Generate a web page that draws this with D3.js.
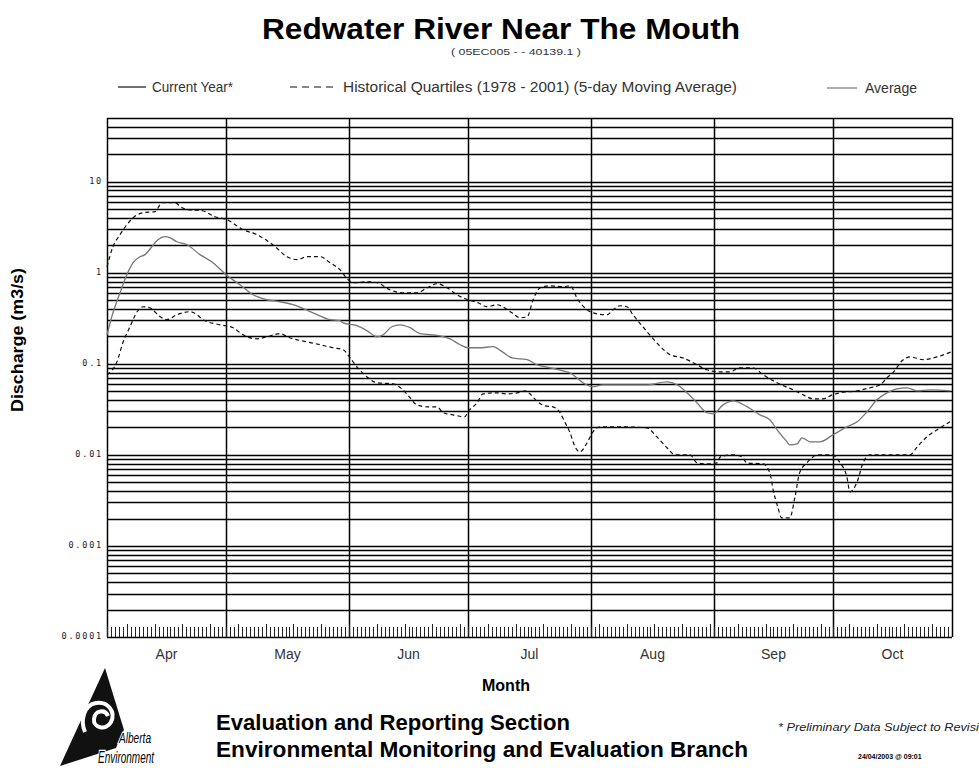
<!DOCTYPE html>
<html>
<head>
<meta charset="utf-8">
<style>
body { margin: 0; background: #fff; }
svg { font-family: "Liberation Sans", Arial, sans-serif; }
</style>
</head>
<body>
<svg width="979" height="768"></svg>
<script src="https://d3js.org/d3.v7.min.js"></script>
<script>

// days counted from 1 April
var upperDay = [0, 1.5, 3.3, 5, 6.6, 9.1, 12.1, 13.9, 17.1, 18.9, 20.2, 23.9, 27.2, 30.2, 34.3, 37.8, 41.8, 45.4, 47.9, 50.4, 53.7, 56.2, 58.7, 60.8, 62.5, 65.5, 68.1, 71.3, 74.4, 78.1, 80.7, 83.2, 85.7, 88.2, 91, 93.5, 95.8, 98.3, 99.8, 102.1, 104.1, 105.9, 107.4, 109.2, 111.7, 114.9, 116.7, 118.7, 121, 122.5, 126, 127.6, 129.3, 131.1, 132.6, 135.1, 138.6, 141.9, 145.2, 148.7, 151.2, 153.8, 157, 159.6, 162.8, 165.4, 168.9, 172.9, 175.5, 178, 180.5, 182.8, 184.8, 189.1, 192.3, 194.9, 196.6, 198.1, 200.7, 202.4, 205.7, 209.2, 213];
var upperQ = [1.16, 1.93, 2.62, 3.37, 4.02, 4.56, 4.68, 5.88, 5.88, 5.18, 4.92, 4.8, 4.12, 3.82, 2.97, 2.62, 2.03, 1.5, 1.39, 1.5, 1.5, 1.29, 1.08, 0.838, 0.776, 0.796, 0.776, 0.65, 0.603, 0.603, 0.684, 0.757, 0.684, 0.573, 0.505, 0.468, 0.423, 0.445, 0.423, 0.363, 0.32, 0.328, 0.505, 0.684, 0.719, 0.702, 0.719, 0.505, 0.392, 0.363, 0.345, 0.392, 0.434, 0.423, 0.345, 0.255, 0.17, 0.126, 0.116, 0.0975, 0.0859, 0.0817, 0.0817, 0.0904, 0.0904, 0.0757, 0.0618, 0.0518, 0.0456, 0.0412, 0.0412, 0.0456, 0.048, 0.0505, 0.0545, 0.0588, 0.0702, 0.0796, 0.111, 0.119, 0.111, 0.119, 0.136];

var avgDay = [0, 1.5, 3.3, 5, 6.6, 8.3, 9.6, 11.3, 12.9, 14.6, 15.9, 17.6, 20.2, 23.4, 26.7, 30, 33.5, 36.8, 40.3, 43.6, 46.9, 51.9, 56.2, 58.7, 59.5, 63, 65.5, 68.1, 69.6, 71.8, 73.9, 76.4, 78.9, 83.9, 86.5, 89, 91, 94, 97.3, 99.6, 102.1, 105.9, 108.4, 111.7, 114.9, 116.7, 120, 122.3, 125, 131.1, 136.1, 141.2, 143.7, 146.2, 148.7, 151.2, 152.8, 155.3, 157.8, 161.4, 164.6, 167.1, 168.9, 171.4, 172.1, 173.9, 175.2, 177.2, 179.7, 183, 186.5, 189.1, 191.6, 194.1, 196.6, 199.1, 201.7, 204.2, 207.5, 212.5];
var average = [0.208, 0.363, 0.603, 0.951, 1.29, 1.5, 1.58, 1.93, 2.31, 2.49, 2.42, 2.19, 2.03, 1.58, 1.29, 0.951, 0.738, 0.573, 0.505, 0.48, 0.445, 0.363, 0.305, 0.297, 0.282, 0.262, 0.231, 0.198, 0.208, 0.255, 0.268, 0.249, 0.214, 0.203, 0.188, 0.162, 0.15, 0.15, 0.154, 0.136, 0.116, 0.111, 0.0975, 0.0904, 0.0838, 0.0796, 0.0618, 0.0559, 0.0588, 0.0588, 0.0588, 0.0634, 0.0588, 0.048, 0.0373, 0.029, 0.0282, 0.0354, 0.0392, 0.0337, 0.0275, 0.0243, 0.0188, 0.0139, 0.0129, 0.0132, 0.0154, 0.0139, 0.0139, 0.0166, 0.0203, 0.0231, 0.0297, 0.0402, 0.048, 0.0531, 0.0545, 0.0505, 0.0518, 0.0505];

var lowerDay = [0, 2.5, 4, 5.8, 7.6, 9.1, 10.8, 13.4, 15.1, 17.6, 20.9, 22.7, 24.2, 28.5, 31.8, 34.3, 37.8, 40.3, 43.6, 46.1, 50.4, 53.7, 57, 59.5, 61.3, 63, 65.5, 68.1, 72.1, 74.6, 76.4, 78.1, 80.7, 83.2, 84.7, 87.2, 90.2, 91, 93.3, 94.8, 98.3, 100.8, 103.4, 105.4, 106.6, 108.6, 110.4, 112.4, 114.2, 115.5, 116.7, 118, 119.2, 121, 122.5, 124.3, 129.3, 136.1, 138.6, 141.2, 143.2, 147, 148.7, 151.2, 153.8, 154.6, 157.8, 160.1, 161.3, 165.4, 167.1, 167.9, 169.1, 170.1, 172.1, 173.4, 174.6, 176.4, 179.2, 182.8, 184.8, 186.5, 187.3, 189.1, 190.6, 192.3, 197.4, 202.4, 204.2, 206.7, 209.2, 212.5];
var lowerQ = [0.0757, 0.105, 0.17, 0.255, 0.373, 0.423, 0.412, 0.328, 0.305, 0.345, 0.373, 0.345, 0.305, 0.268, 0.249, 0.208, 0.188, 0.198, 0.214, 0.193, 0.174, 0.162, 0.15, 0.143, 0.116, 0.0927, 0.072, 0.0618, 0.0603, 0.0518, 0.0423, 0.0354, 0.0337, 0.0337, 0.029, 0.0275, 0.0262, 0.0297, 0.0373, 0.0468, 0.048, 0.0468, 0.048, 0.0505, 0.0468, 0.0382, 0.0345, 0.0337, 0.029, 0.0225, 0.0175, 0.0122, 0.0108, 0.0135, 0.0179, 0.0203, 0.0203, 0.0198, 0.0158, 0.0119, 0.01, 0.01, 0.00817, 0.00796, 0.00817, 0.0095, 0.01, 0.0095, 0.00817, 0.00796, 0.00634, 0.00412, 0.00268, 0.00203, 0.00203, 0.00345, 0.00634, 0.00817, 0.01, 0.01, 0.00817, 0.00573, 0.00392, 0.00505, 0.00817, 0.01, 0.01, 0.01, 0.0122, 0.0158, 0.0188, 0.0231];

var months = ["Apr", "May", "Jun", "Jul", "Aug", "Sep", "Oct"];
var yTickLabels = ["0.0001", "0.001", "0.01", "0.1", "1", "10"];

var svg = d3.select("svg");

var start = new Date(Date.UTC(2003, 3, 1)),
    end = new Date(Date.UTC(2003, 9, 31));

var x = d3.scaleUtc().domain([start, end]).range([107, 952]);
var y = d3.scaleLog().domain([0.0001, 50]).range([637, 118]);

function dayDate(d) { return d3.utcHour.offset(start, Math.round(d * 24)); }

// horizontal grid: 1..9 of every decade, up to 50
var gridVals = [];
for (var e = -4; e <= 1; e++) {
  for (var k = 1; k <= 9; k++) {
    var v = k * Math.pow(10, e);
    if (v <= 50.0001) gridVals.push(v);
  }
}

var grid = svg.append("g");
grid.selectAll("line.h")
    .data(gridVals)
  .enter().append("line")
    .attr("class", "h")
    .attr("x1", 107).attr("x2", 952)
    .attr("y1", function(d) { return Math.round(y(d)) + 0.5; })
    .attr("y2", function(d) { return Math.round(y(d)) + 0.5; })
    .attr("stroke", "#000").attr("stroke-width", 1.5);

var monthStarts = d3.utcMonth.range(start, end);
grid.selectAll("line.v")
    .data(monthStarts.concat([end]))
  .enter().append("line")
    .attr("class", "v")
    .attr("x1", function(d) { return Math.round(x(d)) + 0.5; })
    .attr("x2", function(d) { return Math.round(x(d)) + 0.5; })
    .attr("y1", 118).attr("y2", 637)
    .attr("stroke", "#000").attr("stroke-width", 1.5);

// daily ticks along the bottom
grid.selectAll("line.t")
    .data(d3.utcDay.range(start, end))
  .enter().append("line")
    .attr("class", "t")
    .attr("x1", function(d) { return Math.round(x(d)) + 0.5; })
    .attr("x2", function(d) { return Math.round(x(d)) + 0.5; })
    .attr("y1", 637)
    .attr("y2", function(d) { return d.getUTCDay() === 0 ? 624 : 627; })
    .attr("stroke", "#222").attr("stroke-width", 1);

// y labels
svg.append("g").selectAll("text")
    .data(yTickLabels)
  .enter().append("text")
    .attr("x", 103)
    .attr("y", function(d) { return y(+d) + 2; })
    .attr("text-anchor", "end")
    .attr("font-family", "'DejaVu Sans Mono', monospace")
    .attr("font-size", 8.5)
    .attr("letter-spacing", 1.8)
    .attr("fill", "#222")
    .text(function(d) { return d; });

// month labels
svg.append("g").selectAll("text")
    .data(monthStarts)
  .enter().append("text")
    .attr("x", function(d, i) {
      var next = i + 1 < monthStarts.length ? monthStarts[i + 1] : end;
      return (x(d) + x(next)) / 2;
    })
    .attr("y", 659)
    .attr("text-anchor", "middle")
    .attr("font-size", 14)
    .attr("fill", "#333")
    .text(function(d, i) { return months[i]; });

// series
var line = d3.line()
    .x(function(d) { return x(dayDate(d[0])); })
    .y(function(d) { return y(d[1]); })
    .curve(d3.curveMonotoneX);

function pairs(days, vals) { return days.map(function(d, i) { return [d, vals[i]]; }); }

svg.append("path")
    .datum(pairs(avgDay, average))
    .attr("d", line)
    .attr("fill", "none").attr("stroke", "#777").attr("stroke-width", 1.3);

[pairs(upperDay, upperQ), pairs(lowerDay, lowerQ)].forEach(function(s) {
  svg.append("path")
      .datum(s)
      .attr("d", line)
      .attr("fill", "none").attr("stroke", "#111").attr("stroke-width", 1.2)
      .attr("stroke-dasharray", "4,3");
});

// titles
svg.append("text")
    .attr("x", 501).attr("y", 39)
    .attr("text-anchor", "middle")
    .attr("font-weight", "bold").attr("font-size", 30)
    .attr("textLength", 478).attr("lengthAdjust", "spacingAndGlyphs")
    .text("Redwater River Near The Mouth");

svg.append("text")
    .attr("x", 516).attr("y", 55)
    .attr("text-anchor", "middle")
    .attr("font-size", 9).attr("fill", "#333")
    .attr("textLength", 130).attr("lengthAdjust", "spacingAndGlyphs")
    .text("( 05EC005 - - 40139.1 )");

// legend
var lg = svg.append("g").attr("fill", "#333").attr("font-size", 14);
lg.append("line").attr("x1", 118).attr("x2", 146).attr("y1", 87).attr("y2", 87).attr("stroke", "#111").attr("stroke-width", 1.2);
lg.append("text").attr("x", 152).attr("y", 92)
    .attr("textLength", 81).attr("lengthAdjust", "spacingAndGlyphs")
    .text("Current Year*");
lg.append("line").attr("x1", 290).attr("x2", 337).attr("y1", 87).attr("y2", 87).attr("stroke", "#111").attr("stroke-width", 1.2).attr("stroke-dasharray", "7,5");
lg.append("text").attr("x", 343).attr("y", 92)
    .attr("textLength", 394).attr("lengthAdjust", "spacingAndGlyphs")
    .text("Historical Quartiles (1978  -  2001)  (5-day Moving Average)");
lg.append("line").attr("x1", 827).attr("x2", 857).attr("y1", 88).attr("y2", 88).attr("stroke", "#777").attr("stroke-width", 1.2);
lg.append("text").attr("x", 865).attr("y", 93)
    .attr("textLength", 52).attr("lengthAdjust", "spacingAndGlyphs")
    .text("Average");

// axis titles
svg.append("text")
    .attr("transform", "translate(23,340) rotate(-90)")
    .attr("text-anchor", "middle")
    .attr("font-weight", "bold").attr("font-size", 16)
    .attr("textLength", 144).attr("lengthAdjust", "spacingAndGlyphs")
    .text("Discharge (m3/s)");

svg.append("text")
    .attr("x", 506).attr("y", 691)
    .attr("text-anchor", "middle")
    .attr("font-weight", "bold").attr("font-size", 16)
    .text("Month");

// footer
svg.append("text")
    .attr("x", 216).attr("y", 730)
    .attr("font-weight", "bold").attr("font-size", 22)
    .attr("textLength", 354).attr("lengthAdjust", "spacingAndGlyphs")
    .text("Evaluation and Reporting Section");
svg.append("text")
    .attr("x", 216).attr("y", 757)
    .attr("font-weight", "bold").attr("font-size", 22)
    .attr("textLength", 532).attr("lengthAdjust", "spacingAndGlyphs")
    .text("Environmental Monitoring and Evaluation Branch");

svg.append("text")
    .attr("x", 778).attr("y", 731)
    .attr("font-style", "italic").attr("font-size", 11).attr("fill", "#222")
    .attr("textLength", 215).attr("lengthAdjust", "spacingAndGlyphs")
    .text("* Preliminary Data Subject to Revision");
svg.append("text")
    .attr("x", 858).attr("y", 759)
    .attr("font-weight", "bold").attr("font-size", 7)
    .text("24/04/2003 @ 09:01");

// logo
var logo = svg.append("g");
logo.append("path")
    .attr("d", "M105,668 L60,766 L116,748 L124,730 Z")
    .attr("fill", "#111");
logo.append("path")
    .attr("d", "M108,716 C105,709 95,710 94,719 C93,728 106,731 111,722 C116,712 108,701 96,703 C84,705 80,720 85,732")
    .attr("fill", "none").attr("stroke", "#fff").attr("stroke-width", 4);
logo.selectAll("text")
    .data([["Alberta", 119, 743, 15, 32], ["Environment", 98, 763, 16, 56]])
  .enter().append("text")
    .attr("x", function(d) { return d[1]; })
    .attr("y", function(d) { return d[2]; })
    .attr("font-style", "italic")
    .attr("font-size", function(d) { return d[3]; })
    .attr("textLength", function(d) { return d[4]; })
    .attr("lengthAdjust", "spacingAndGlyphs")
    .attr("stroke", "#fff").attr("stroke-width", 2.5).attr("paint-order", "stroke")
    .attr("fill", "#000")
    .text(function(d) { return d[0]; });

</script>
</body>
</html>
